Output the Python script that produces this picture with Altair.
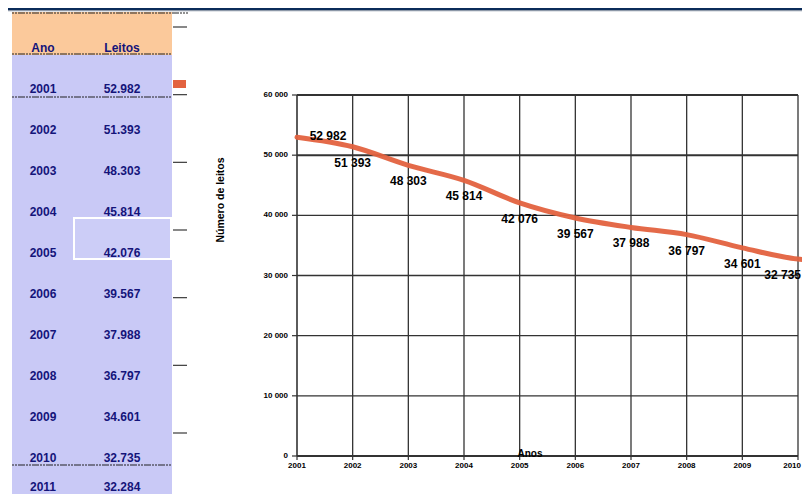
import altair as alt
import pandas as pd

# ---------------- data ----------------
years = [2001, 2002, 2003, 2004, 2005, 2006, 2007, 2008, 2009, 2010]
leitos = [52982, 51393, 48303, 45814, 42076, 39567, 37988, 36797, 34601, 32735]
leitos_labels = ["52 982", "51 393", "48 303", "45 814", "42 076", "39 567",
                 "37 988", "36 797", "34 601", "32 735"]
extra_year = 2011
extra_leitos = 32284

table_header = ["Ano", "Leitos"]
table_years = [2001, 2002, 2003, 2004, 2005, 2006, 2007, 2008, 2009, 2010, 2011]
table_values = ["52.982", "51.393", "48.303", "45.814", "42.076", "39.567",
                "37.988", "36.797", "34.601", "32.735", "32.284"]

y_ticks = [0, 10000, 20000, 30000, 40000, 50000, 60000]
y_tick_labels = ["0", "10 000", "20 000", "30 000", "40 000", "50 000", "60 000"]
x_tick_labels = [str(y) for y in years]

x_title = "Anos"
y_title = "Número de leitos"

# ---------------- frames ----------------
line_df = pd.DataFrame({"year": years + [extra_year], "leitos": leitos + [extra_leitos]})
label_df = pd.DataFrame({"year": years, "leitos": leitos, "label": leitos_labels})
vgrid_df = pd.DataFrame({"year": years, "lo": [y_ticks[0]] * len(years),
                         "hi": [y_ticks[-1]] * len(years), "label": x_tick_labels})
hgrid_df = pd.DataFrame({"v": y_ticks, "x0": [years[0]] * len(y_ticks),
                         "x1": [years[-1]] * len(y_ticks), "label": y_tick_labels})

rows = [{"col": table_header[0], "row": 2000, "text": table_header[0]},
        {"col": table_header[1], "row": 2000, "text": table_header[1]}]
for yr, val in zip(table_years, table_values):
    rows.append({"col": table_header[0], "row": yr, "text": str(yr)})
    rows.append({"col": table_header[1], "row": yr, "text": val})
table_df = pd.DataFrame(rows)
one = pd.DataFrame({"k": [0]})

# ---------------- styles / scales ----------------
FONT = "Liberation Sans"
NAVY = "#0b2c5a"
PEACH = "#fbc99b"
LAV = "#c9c9f6"
TXT = "#14147a"
ORANGE = "#e3623f"
GRID = "#333333"

XS = alt.Scale(domain=[years[0], years[-1]], range=[289, 790], nice=False, zero=False)
YS = alt.Scale(domain=[y_ticks[0], y_ticks[-1]], range=[448, 87], nice=False, zero=False)
TY = alt.Scale(domain=[2000, 2010, 2011], range=[40, 450, 479], nice=False, zero=False)
TX = alt.Scale(type="point", domain=table_header, range=[35, 114], padding=0)
GHOST = alt.Scale(domain=[y_ticks[0], y_ticks[-1]], range=[425, 19], nice=False, zero=False)


def X(f):
    return alt.X(f, scale=XS, axis=None)


def Y(f):
    return alt.Y(f, scale=YS, axis=None)


layers = []

# frame: top navy band and thin grey line
layers.append(alt.Chart(one).mark_rect(color=NAVY).encode(
    x=alt.value(0), x2=alt.value(794), y=alt.value(0), y2=alt.value(2)))
layers.append(alt.Chart(one).mark_rule(color="#8d98a8", strokeWidth=1.2).encode(
    x=alt.value(0), x2=alt.value(794), y=alt.value(2.6)))

# table backgrounds
layers.append(alt.Chart(one).mark_rect(color=PEACH).encode(
    x=alt.value(4), x2=alt.value(164), y=alt.value(4), y2=alt.value(47)))
layers.append(alt.Chart(one).mark_rect(color=LAV).encode(
    x=alt.value(4), x2=alt.value(164), y=alt.value(47), y2=alt.value(486)))
layers.append(alt.Chart(one).mark_rect(fill="#cccdf7", stroke="white", strokeWidth=2).encode(
    x=alt.value(66), x2=alt.value(163), y=alt.value(210), y2=alt.value(251)))
for py, x2 in [(5, 180), (46, 164), (89, 164), (457, 164)]:
    layers.append(alt.Chart(one).mark_rule(color="#222222", strokeWidth=1.2,
                                           strokeDash=[2, 1, 2, 1, 7, 1]).encode(
        x=alt.value(4), x2=alt.value(x2), y=alt.value(py)))

# table text
layers.append(alt.Chart(table_df).mark_text(font=FONT, fontWeight="bold", fontSize=12,
                                            color=TXT, baseline="middle").encode(
    x=alt.X("col:N", scale=TX, axis=None),
    y=alt.Y("row:Q", scale=TY, axis=None),
    text="text:N"))

# leftover axis remnant beside the table
layers.append(alt.Chart(hgrid_df).mark_rule(color="#3a3a3a", strokeWidth=1.2).encode(
    x=alt.value(165), x2=alt.value(179),
    y=alt.Y("v:Q", scale=GHOST, axis=None)))
layers.append(alt.Chart(one).mark_rect(color=ORANGE).encode(
    x=alt.value(165), x2=alt.value(178), y=alt.value(72), y2=alt.value(80)))

# grid
layers.append(alt.Chart(vgrid_df).mark_rule(color=GRID).encode(
    x=X("year:Q"), y=Y("lo:Q"), y2="hi:Q",
    strokeWidth=alt.condition(f"datum.year == {years[0]}", alt.value(1.6), alt.value(1.3))))
layers.append(alt.Chart(hgrid_df).mark_rule(color=GRID).encode(
    y=Y("v:Q"), x=X("x0:Q"), x2="x1:Q",
    strokeWidth=alt.condition("datum.v >= 50000 || datum.v == 0", alt.value(2), alt.value(1.3))))
# ticks
layers.append(alt.Chart(hgrid_df).mark_rule(color=GRID, strokeWidth=1.2, xOffset=-5).encode(
    y=Y("v:Q"), x=X("x0:Q"), x2="x0:Q"))
layers.append(alt.Chart(vgrid_df).mark_rule(color=GRID, strokeWidth=1.2, y2Offset=4).encode(
    x=X("year:Q"), y=Y("lo:Q"), y2="lo:Q"))

# line
layers.append(alt.Chart(line_df).mark_line(color=ORANGE, strokeWidth=5, interpolate="monotone",
                                           strokeCap="round", opacity=0.95).encode(
    x=X("year:Q"), y=Y("leitos:Q")))

# value labels
layers.append(alt.Chart(label_df).transform_filter(f"datum.year == {years[0]}").mark_text(
    font=FONT, fontWeight="bold", fontSize=12, color="black", dx=31, dy=-1).encode(
    x=X("year:Q"), y=Y("leitos:Q"), text="label:N"))
layers.append(alt.Chart(label_df).transform_filter(
    f"datum.year > {years[0]} && datum.year < {years[-1]}").mark_text(
    font=FONT, fontWeight="bold", fontSize=12, color="black", dy=16).encode(
    x=X("year:Q"), y=Y("leitos:Q"), text="label:N"))
layers.append(alt.Chart(label_df).transform_filter(f"datum.year == {years[-1]}").mark_text(
    font=FONT, fontWeight="bold", fontSize=12, color="black", dy=16, dx=3,
    align="right").encode(
    x=X("year:Q"), y=Y("leitos:Q"), text="label:N"))

# tick labels
layers.append(alt.Chart(hgrid_df).mark_text(font=FONT, fontWeight="bold", fontSize=8,
                                            color="black", align="right", dx=-9,
                                            baseline="middle").encode(
    x=X("x0:Q"), y=Y("v:Q"), text="label:N"))
layers.append(alt.Chart(vgrid_df).transform_filter(f"datum.year < {years[-1]}").mark_text(
    font=FONT, fontWeight="bold", fontSize=8, color="black", dy=10,
    baseline="middle").encode(
    x=X("year:Q"), y=Y("lo:Q"), text="label:N"))
layers.append(alt.Chart(vgrid_df).transform_filter(f"datum.year == {years[-1]}").mark_text(
    font=FONT, fontWeight="bold", fontSize=8, color="black", dy=10, dx=3,
    align="right", baseline="middle").encode(
    x=X("year:Q"), y=Y("lo:Q"), text="label:N"))

# axis titles
layers.append(alt.Chart(one).mark_text(font=FONT, fontWeight="bold", fontSize=10,
                                       color="black", baseline="middle").encode(
    x=alt.value(522), y=alt.value(446), text=alt.value(x_title)))
layers.append(alt.Chart(one).mark_text(font=FONT, fontWeight="bold", fontSize=10.5,
                                       color="black", angle=270, baseline="middle").encode(
    x=alt.value(213), y=alt.value(192), text=alt.value(y_title)))

chart = alt.layer(*layers).resolve_scale(x="independent", y="independent").properties(
    width=794, height=486, padding=0,
    autosize=alt.AutoSizeParams(type="none"),
    background="white",
).configure_view(stroke=None)

chart.save("out.html", embed_options={"renderer": "svg", "actions": False})
